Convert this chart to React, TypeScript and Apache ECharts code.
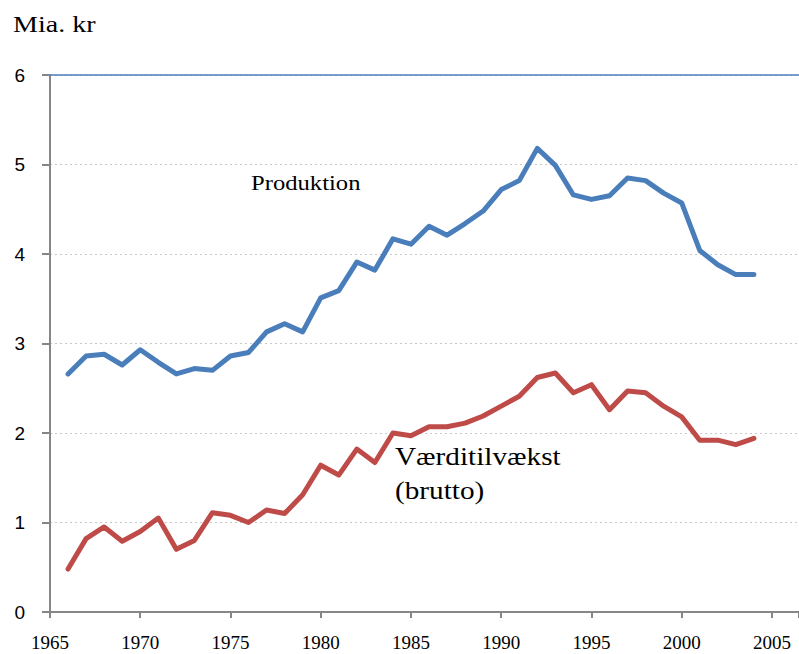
import React, { useEffect, useRef } from "react";
import * as echarts from "echarts";

const years: number[] = [
  1966, 1967, 1968, 1969, 1970, 1971, 1972, 1973, 1974, 1975, 1976, 1977, 1978,
  1979, 1980, 1981, 1982, 1983, 1984, 1985, 1986, 1987, 1988, 1989, 1990, 1991,
  1992, 1993, 1994, 1995, 1996, 1997, 1998, 1999, 2000, 2001, 2002, 2003, 2004,
];

const produktion: number[] = [
  2.66, 2.86, 2.88, 2.76, 2.93, 2.79, 2.66, 2.72, 2.7, 2.86, 2.9, 3.13, 3.22,
  3.13, 3.51, 3.59, 3.91, 3.82, 4.17, 4.11, 4.31, 4.21, 4.34, 4.48, 4.72, 4.82,
  5.18, 4.99, 4.66, 4.61, 4.65, 4.85, 4.82, 4.68, 4.57, 4.04, 3.88, 3.77, 3.77,
];

const vaerditilvaekst: number[] = [
  0.48, 0.82, 0.95, 0.79, 0.9, 1.05, 0.7, 0.8, 1.11, 1.08, 1.0, 1.14, 1.1,
  1.31, 1.64, 1.53, 1.82, 1.67, 2.0, 1.97, 2.07, 2.07, 2.11, 2.19, 2.3, 2.41,
  2.62, 2.67, 2.45, 2.54, 2.26, 2.47, 2.45, 2.3, 2.18, 1.92, 1.92, 1.87, 1.94,
];

const xTickLabels: number[] = [1965, 1970, 1975, 1980, 1985, 1990, 1995, 2000, 2005];
const yTickLabels: number[] = [0, 1, 2, 3, 4, 5, 6];

const unitLabel = "Mia. kr";
const labelProduktion = "Produktion";
const labelVaerdi = "Værditilvækst\n(brutto)";

const BLUE = "#4a7ebb";
const RED = "#be4b48";
const SERIF = "Liberation Serif";
const SANS = "Liberation Sans";

export default function App() {
  const ref = useRef<HTMLDivElement>(null);

  useEffect(() => {
    if (!ref.current) return;
    const chart = echarts.init(ref.current, undefined, { renderer: "svg" });
    const xMin = xTickLabels[0];
    const xMax = 2006.5;
    chart.setOption({
      animation: false,
      backgroundColor: "#ffffff",
      grid: {
        left: 50,
        right: 0,
        top: 75,
        bottom: 42,
        containLabel: false,
        outerBoundsMode: "none",
      },
      xAxis: [
        {
          type: "value",
          min: xMin,
          max: xMax,
          interval: 5,
          axisLine: { show: true, lineStyle: { color: "#868686", width: 2 } },
          axisTick: { show: true, length: 6, lineStyle: { color: "#868686", width: 2 } },
          axisLabel: {
            margin: 21,
            fontFamily: SERIF,
            fontSize: 19,
            lineHeight: 19,
            color: "#000",
            formatter: (v: number) => (xTickLabels.includes(v) ? String(v) : ""),
          },
          splitLine: { show: false },
        },
        {
          type: "value",
          position: "top",
          min: xMin,
          max: xMax,
          axisLine: { show: true, onZero: false, lineStyle: { color: BLUE, width: 1.5 } },
          axisTick: { show: false },
          axisLabel: { show: false },
          splitLine: { show: false },
        },
      ],
      yAxis: {
        type: "value",
        min: yTickLabels[0],
        max: yTickLabels[yTickLabels.length - 1],
        interval: 1,
        axisLine: { show: true, lineStyle: { color: "#868686", width: 2 } },
        axisTick: { show: true, length: 8, lineStyle: { color: "#868686", width: 2 } },
        axisLabel: {
          margin: 25,
          fontFamily: SANS,
          fontSize: 19,
          color: "#000",
        },
        splitLine: {
          show: true,
          lineStyle: { color: "#c8c8c8", type: [2, 3], width: 1 },
        },
      },
      series: [
        {
          name: "Produktion",
          type: "line",
          xAxisIndex: 0,
          data: years.map((y, i) => [y, produktion[i]]),
          symbol: "none",
          lineStyle: { color: BLUE, width: 5, cap: "round", join: "round" },
          z: 3,
        },
        {
          name: "Værditilvækst (brutto)",
          type: "line",
          xAxisIndex: 0,
          data: years.map((y, i) => [y, vaerditilvaekst[i]]),
          symbol: "none",
          lineStyle: { color: RED, width: 5, cap: "round", join: "round" },
          z: 3,
        },
      ],
      graphic: [
        {
          type: "text",
          x: 13,
          y: 13,
          scaleX: 1.22,
          style: {
            text: unitLabel,
            fontFamily: SERIF,
            fontSize: 23,
            fill: "#000",
            align: "left",
            verticalAlign: "top",
          },
        },
        {
          type: "text",
          x: 251,
          y: 171,
          scaleX: 1.12,
          style: {
            text: labelProduktion,
            fontFamily: SERIF,
            fontSize: 22,
            fill: "#000",
            align: "left",
            verticalAlign: "top",
          },
        },
        {
          type: "text",
          x: 395,
          y: 440,
          scaleX: 1.17,
          style: {
            text: labelVaerdi,
            fontFamily: SERIF,
            fontSize: 25,
            lineHeight: 34,
            fill: "#000",
            align: "left",
            verticalAlign: "top",
          },
        },
      ],
    });
    return () => chart.dispose();
  }, []);

  return (
    <div
      ref={ref}
      style={{ position: "fixed", left: 0, top: 0, width: 799, height: 654 }}
    />
  );
}
